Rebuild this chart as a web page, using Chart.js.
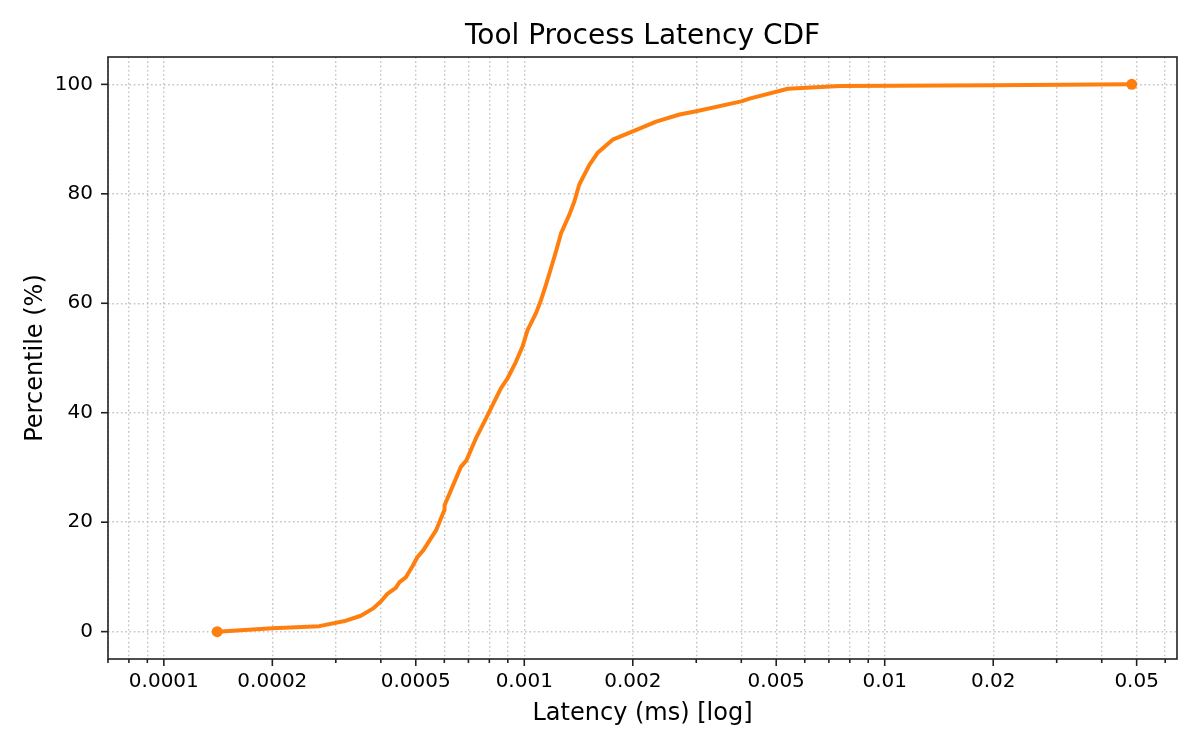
<!DOCTYPE html>
<html>
<head>
<meta charset="utf-8">
<title>Tool Process Latency CDF</title>
<script src="https://cdn.jsdelivr.net/npm/chart.js@4.4.1/dist/chart.umd.min.js"></script>
<style>
  html, body { margin: 0; padding: 0; background: #fff; }
  #wrap { width: 1200px; height: 750px; }
</style>
</head>
<body>
<div id="wrap"><canvas id="chartLatencia"></canvas></div>
<script>
// ===============================
// DATA
// ===============================
const latencyMs = [
  0.0001406, 0.000200, 0.000270, 0.000320, 0.000352, 0.000380, 0.000400,
  0.000417, 0.000440, 0.000450, 0.000469, 0.000490, 0.000505, 0.000525,
  0.000569, 0.000600, 0.000601, 0.000667, 0.000691, 0.000734, 0.000774,
  0.000825, 0.000862, 0.000899, 0.000948, 0.000989, 0.001021, 0.001078,
  0.001113, 0.001149, 0.001186, 0.001225, 0.001265, 0.001334, 0.001377,
  0.001421, 0.001516, 0.001598, 0.001759, 0.002000, 0.002322, 0.002696,
  0.003000, 0.004000, 0.004217, 0.005387, 0.007500, 0.020000, 0.048450
];
const percentile = [
  0, 0.6, 1.0, 2.0, 2.9, 4.2, 5.5,
  6.9, 8.0, 9.0, 9.9, 12.0, 13.6, 14.9,
  18.5, 22.2, 23.1, 30.1, 31.3, 35.3, 38.3,
  42.0, 44.5, 46.3, 49.3, 52.1, 55.1, 58.2,
  60.6, 63.4, 66.4, 69.5, 72.8, 76.2, 78.6,
  81.7, 85.3, 87.5, 89.9, 91.4, 93.2, 94.5,
  95.1, 96.9, 97.4, 99.2, 99.7, 99.85, 100
];

const xTickValues = [0.0001, 0.0002, 0.0005, 0.001, 0.002, 0.005, 0.01, 0.02, 0.05];
const xTickLabels = ["0.0001", "0.0002", "0.0005", "0.001", "0.002", "0.005", "0.01", "0.02", "0.05"];
const xMinorTicks = [
  0.00007, 0.00008, 0.00009,
  0.0003, 0.0004, 0.0006, 0.0007, 0.0008, 0.0009,
  0.003, 0.004, 0.006, 0.007, 0.008, 0.009,
  0.03, 0.04, 0.06
];
const yTickValues = [0, 20, 40, 60, 80, 100];

// ===============================
// STYLE
// ===============================
const naranja = "#ff7f0e";
const gris = "#c4c4c4";
const negro = "#222";

Chart.defaults.font.family = "'DejaVu Sans', sans-serif";
Chart.defaults.color = "#000";

// spines and tick marks, matplotlib style
const marcoEjes = {
  id: "marcoEjes",
  afterDraw(chart) {
    const { ctx, chartArea: a, scales } = chart;
    ctx.save();
    ctx.strokeStyle = negro;
    ctx.lineWidth = 1.6;
    scales.x.ticks.forEach(t => {
      const px = scales.x.getPixelForValue(t.value);
      const largo = t.text ? 7 : 4;
      ctx.beginPath();
      ctx.moveTo(px, a.bottom);
      ctx.lineTo(px, a.bottom + largo);
      ctx.stroke();
    });
    scales.y.ticks.forEach(t => {
      const py = scales.y.getPixelForValue(t.value);
      ctx.beginPath();
      ctx.moveTo(a.left, py);
      ctx.lineTo(a.left - 7, py);
      ctx.stroke();
    });
    ctx.strokeRect(a.left, a.top, a.right - a.left, a.bottom - a.top);
    ctx.restore();
  }
};

const puntos = latencyMs.map((x, i) => ({ x, y: percentile[i] }));
const ultimo = puntos.length - 1;

new Chart(document.getElementById("chartLatencia"), {
  type: "line",
  data: {
    datasets: [{
      label: "CDF",
      data: puntos,
      borderColor: naranja,
      backgroundColor: naranja,
      borderWidth: 4,
      borderJoinStyle: "round",
      tension: 0,
      pointRadius: c => (c.dataIndex === 0 || c.dataIndex === ultimo) ? 5.5 : 0,
      pointHoverRadius: c => (c.dataIndex === 0 || c.dataIndex === ultimo) ? 5.5 : 0,
      pointBorderWidth: 0,
      pointBackgroundColor: naranja
    }]
  },
  options: {
    responsive: true,
    maintainAspectRatio: false,
    animation: false,
    layout: { padding: { left: 0, right: 23, top: 0, bottom: 0 } },
    plugins: {
      legend: { display: false },
      tooltip: { enabled: false },
      title: {
        display: true,
        text: "Tool Process Latency CDF",
        fullSize: false,
        color: "#000",
        font: { size: 28, weight: "normal" },
        padding: { top: 20, bottom: 3.4 }
      }
    },
    scales: {
      x: {
        type: "logarithmic",
        min: 0.00007,
        max: 0.0647,
        afterBuildTicks: scale => {
          const marcadas = xTickValues.map((v, i) => ({ value: v, text: xTickLabels[i] }));
          const menores = xMinorTicks.map(v => ({ value: v, text: "" }));
          scale.ticks = marcadas.concat(menores).sort((a, b) => a.value - b.value);
        },
        afterFit: scale => { scale.height = 91; },
        ticks: {
          autoSkip: false,
          maxRotation: 0,
          minRotation: 0,
          padding: 11,
          font: { size: 20 },
          callback: (v, i, ticks) => ticks[i].text || ""
        },
        grid: { color: gris, lineWidth: 1.4, drawTicks: false },
        border: { display: false, dash: [1.6, 2.7] },
        title: {
          display: true,
          text: "Latency (ms) [log]",
          font: { size: 24 },
          padding: { top: 0, bottom: 21.6 }
        }
      },
      y: {
        type: "linear",
        min: -5,
        max: 105,
        afterBuildTicks: scale => {
          scale.ticks = yTickValues.map(v => ({ value: v }));
        },
        afterFit: scale => { scale.width = 108; },
        ticks: { padding: 15, font: { size: 20 } },
        grid: { color: gris, lineWidth: 1.4, drawTicks: false },
        border: { display: false, dash: [1.6, 2.7] },
        title: {
          display: true,
          text: "Percentile (%)",
          font: { size: 24 },
          padding: { top: 21, bottom: 0 }
        }
      }
    }
  },
  plugins: [marcoEjes]
});
</script>
</body>
</html>
